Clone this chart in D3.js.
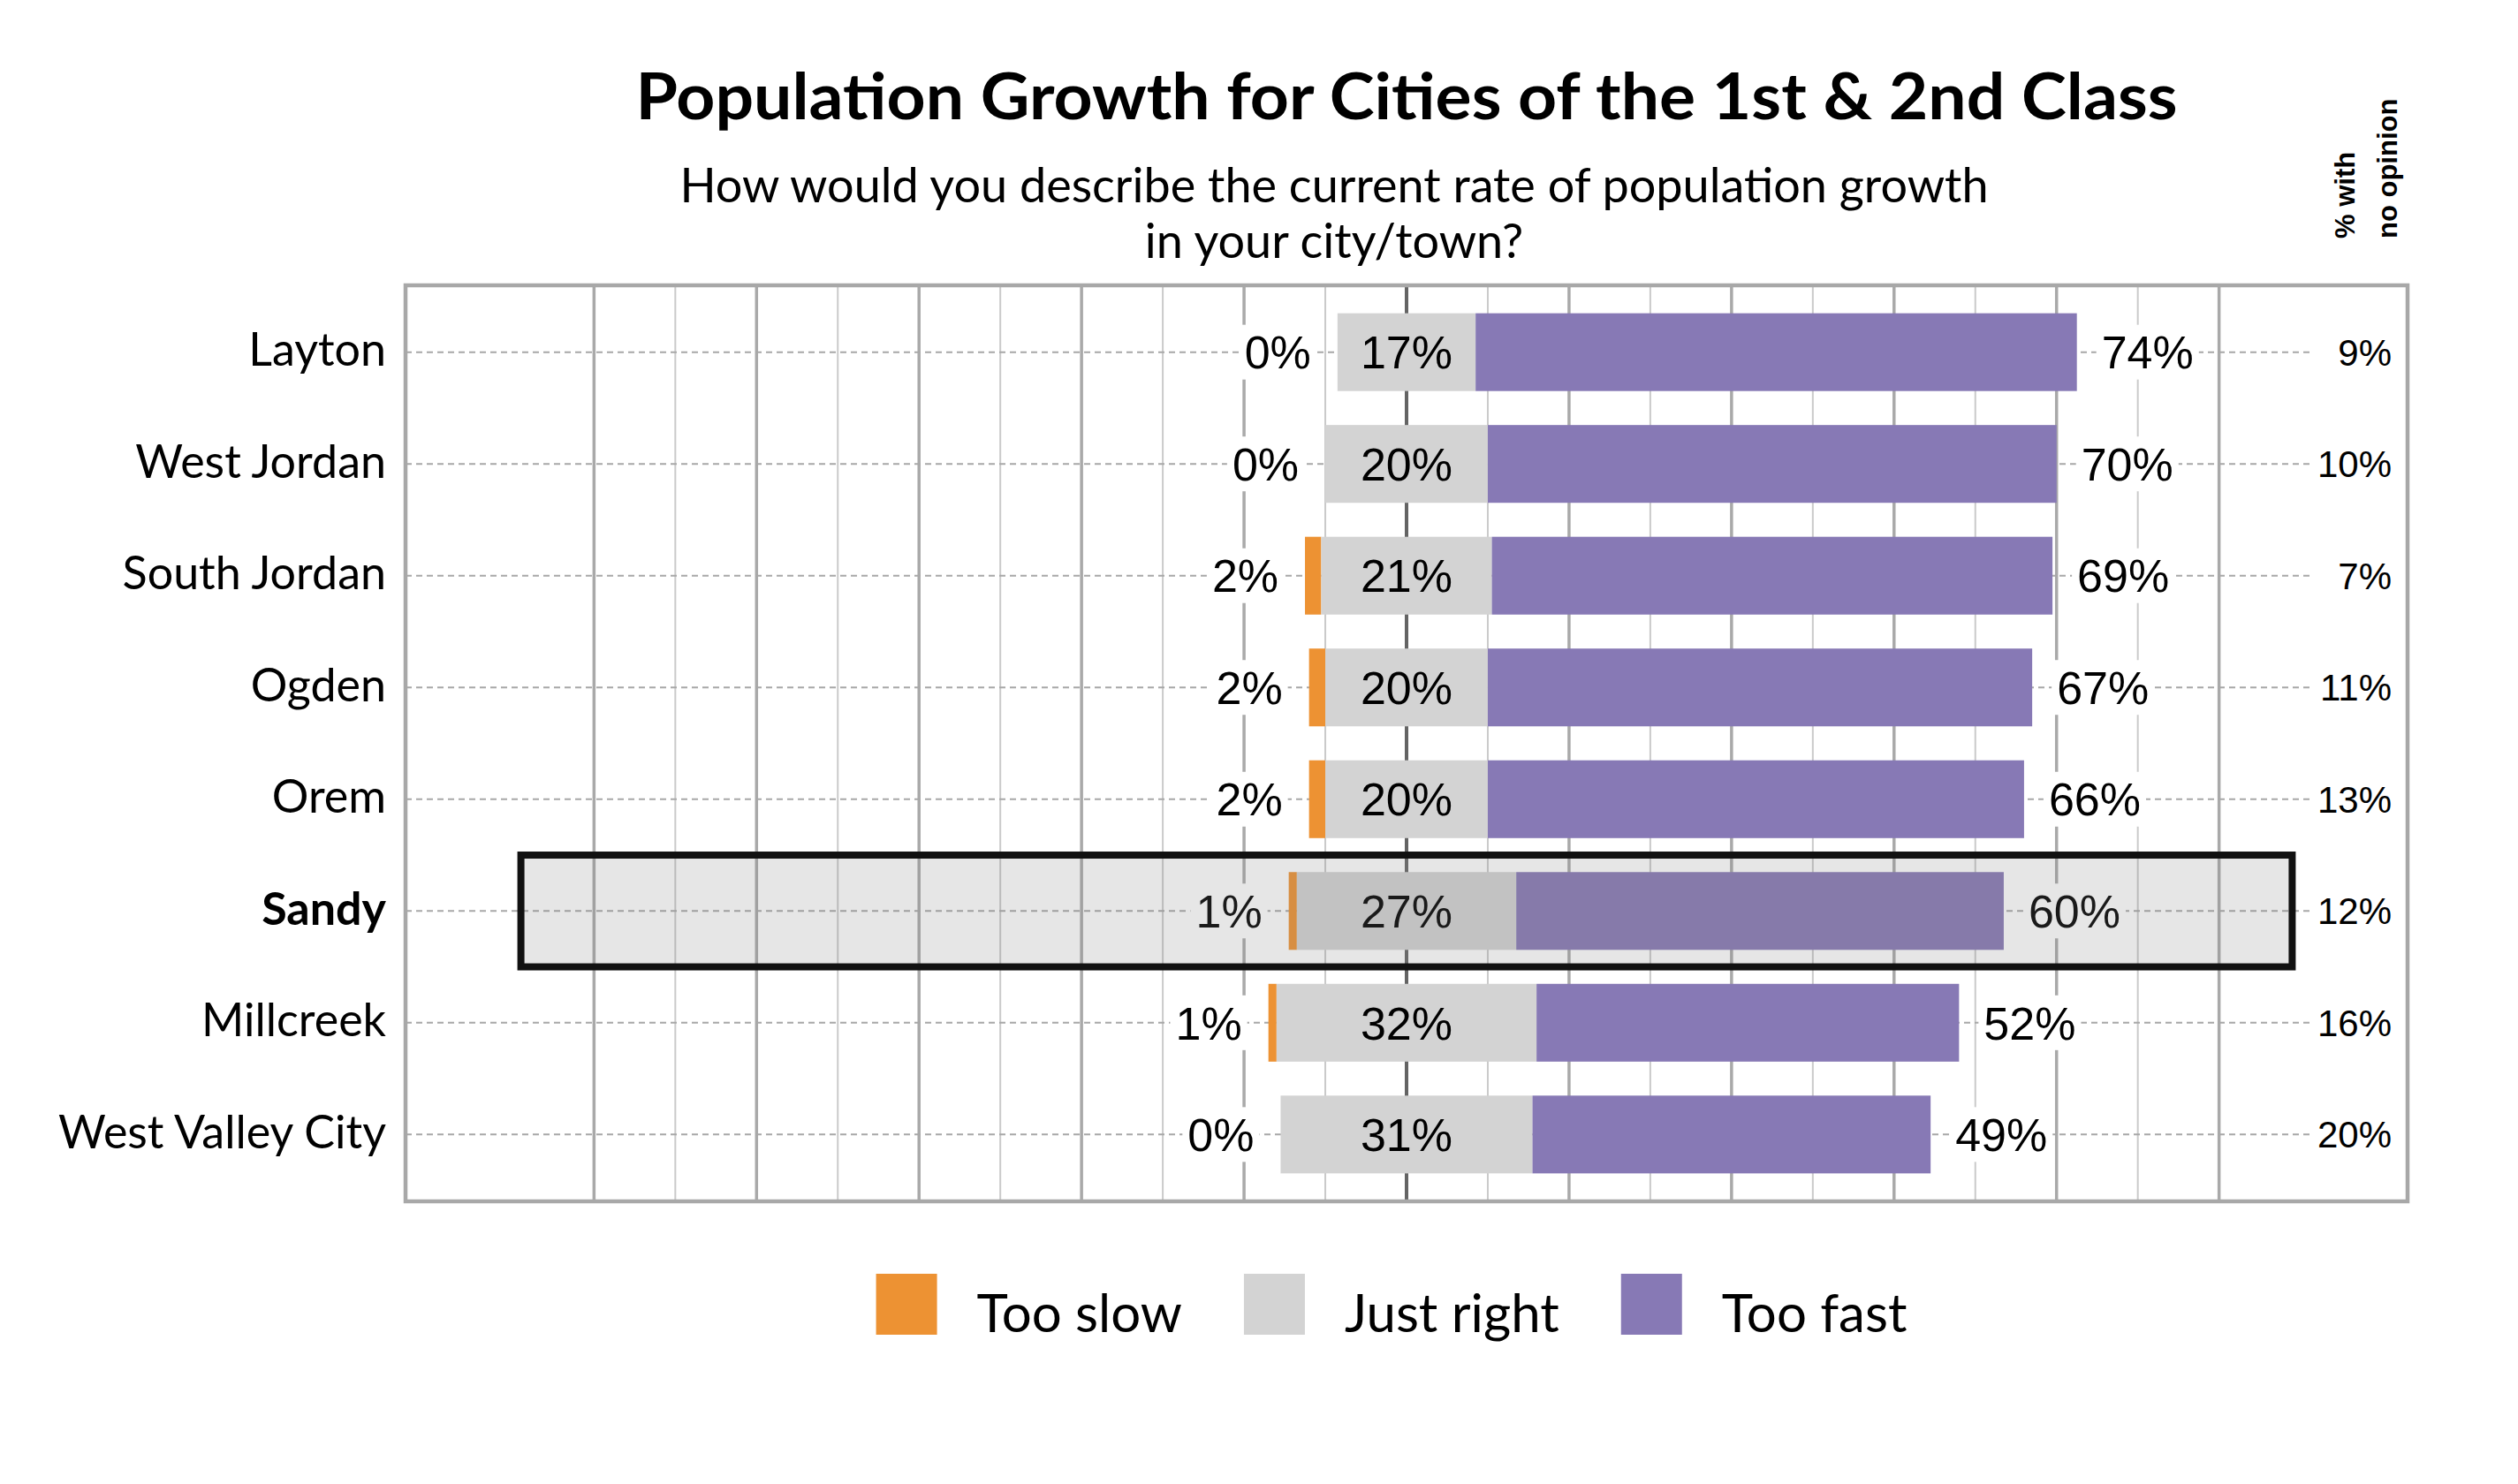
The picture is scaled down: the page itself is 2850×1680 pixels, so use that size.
<!DOCTYPE html>
<html>
<head>
<meta charset="utf-8">
<script src="https://cdn.jsdelivr.net/npm/d3@7"></script>
<style>
  body { margin: 0; background: #fff; }
  svg text { fill: #000; }
</style>
</head>
<body>
<script>
// chart values
var cities = ['Layton', 'West Jordan', 'South Jordan', 'Ogden', 'Orem', 'Sandy', 'Millcreek', 'West Valley City'];
var tooSlow = [0, 0, 2, 2, 2, 1, 1, 0];
var justRight = [17, 20, 21, 20, 20, 27, 32, 31];
var tooFast = [74, 70, 69, 67, 66, 60, 52, 49];
var noOpinion = [9, 10, 7, 11, 13, 12, 16, 20];
var highlightCity = 'Sandy';
var seriesNames = ['Too slow', 'Just right', 'Too fast'];
var seriesColors = ['#ED9233', '#D3D3D3', '#8779B5'];
var gridValues = [-100, -90, -80, -70, -60, -50, -40, -30, -20, -10, 0, 10, 20, 30, 40, 50, 60, 70, 80, 90, 100];

var W = 2850, H = 1680;
var frame = { left: 459, right: 2725, top: 323, bottom: 1360 };
var labelFont = '"Liberation Sans", Arial, sans-serif';
var textFont = 'Lato, "Open Sans", sans-serif';

var rows = cities.map(function (c, i) {
  return { city: c, slow: tooSlow[i], right: justRight[i], fast: tooFast[i], none: noOpinion[i] };
});

var svg = d3.select('body').append('svg')
  .attr('width', W).attr('height', H)
  .attr('viewBox', '0 0 ' + W + ' ' + H);

var x = d3.scaleLinear().domain([-123.2, 123.2]).range([frame.left, frame.right]);
var y = d3.scaleBand().domain(cities).range([frame.top, frame.bottom])
  .paddingInner(0.304).paddingOuter(0.25);
var step = y.step();
function cy(c) { return y(c) + y.bandwidth() / 2; }

// title + question
svg.append('text')
  .attr('x', x(0)).attr('y', 135)
  .attr('text-anchor', 'middle')
  .attr('font-family', textFont).attr('font-weight', 700).attr('font-size', 72)
  .attr('textLength', 1745).attr('lengthAdjust', 'spacingAndGlyphs')
  .text('Population Growth for Cities of the 1st & 2nd Class');

var sub = svg.append('text')
  .attr('text-anchor', 'middle')
  .attr('font-family', textFont).attr('font-size', 54);
sub.append('tspan').attr('x', 1510).attr('y', 229)
  .text('How would you describe the current rate of population growth');
sub.append('tspan').attr('x', 1510).attr('y', 292)
  .text('in your city/town?');

// "% with no opinion" header, rotated
var hdr = svg.append('g').attr('font-family', labelFont).attr('font-weight', 700).attr('font-size', 31);
hdr.append('text').attr('transform', 'translate(2665,270) rotate(-90)').text('% with');
hdr.append('text').attr('transform', 'translate(2713,270) rotate(-90)').text('no opinion');

// vertical grid (every 10%, heavier every 20%, darkest at zero)
svg.append('g').selectAll('line')
  .data(gridValues)
  .join('line')
  .attr('x1', function (d) { return x(d); }).attr('x2', function (d) { return x(d); })
  .attr('y1', frame.top).attr('y2', frame.bottom)
  .attr('stroke', function (d) { return d === 0 ? '#646464' : (d % 20 === 0 ? '#a9a9a9' : '#cacaca'); })
  .attr('stroke-width', function (d) { return d === 0 ? 4 : (d % 20 === 0 ? 3.5 : 2); });

// dashed row guides
svg.append('g').selectAll('line')
  .data(rows)
  .join('line')
  .attr('x1', frame.left).attr('x2', 2615)
  .attr('y1', function (d) { return cy(d.city); }).attr('y2', function (d) { return cy(d.city); })
  .attr('stroke', '#a8a8a8').attr('stroke-width', 2).attr('stroke-dasharray', '7,5');

// stacked diverging bars: "Just right" centred on zero
function segs(d) {
  var h = d.right / 2;
  return [
    { key: 0, x0: -h - d.slow, x1: -h, city: d.city },
    { key: 1, x0: -h, x1: h, city: d.city },
    { key: 2, x0: h, x1: h + d.fast, city: d.city }
  ];
}
svg.append('g').selectAll('g')
  .data(rows)
  .join('g')
  .selectAll('rect')
  .data(segs)
  .join('rect')
  .attr('x', function (s) { return x(s.x0); })
  .attr('width', function (s) { return x(s.x1) - x(s.x0); })
  .attr('y', function (s) { return y(s.city); })
  .attr('height', y.bandwidth())
  .attr('fill', function (s) { return seriesColors[s.key]; });

// value labels
var labels = [];
rows.forEach(function (d) {
  var h = d.right / 2;
  labels.push({ city: d.city, text: d.slow + '%', xv: x(-h - d.slow) - 30, anchor: 'end', size: 52, bg: true });
  labels.push({ city: d.city, text: d.right + '%', xv: x(0), anchor: 'middle', size: 52, bg: false });
  labels.push({ city: d.city, text: d.fast + '%', xv: x(h + d.fast) + 28, anchor: 'start', size: 52, bg: true });
  labels.push({ city: d.city, text: d.none + '%', xv: 2707, anchor: 'end', size: 42, bg: true });
});

var lg = svg.append('g').attr('font-family', labelFont);
var lbl = lg.selectAll('g').data(labels).join('g');
lbl.append('rect').attr('fill', '#fff');
lbl.append('text')
  .attr('x', function (d) { return d.xv; })
  .attr('y', function (d) { return cy(d.city); })
  .attr('dy', '0.36em')
  .attr('font-size', function (d) { return d.size; })
  .attr('text-anchor', function (d) { return d.anchor; })
  .text(function (d) { return d.text; });
lbl.each(function (d) {
  var t = d3.select(this).select('text').node().getBBox();
  d3.select(this).select('rect')
    .attr('x', t.x - 6).attr('width', t.width + 12)
    .attr('y', cy(d.city) - 31).attr('height', 62)
    .attr('display', d.bg ? null : 'none');
});

// city names
svg.append('g')
  .attr('font-family', textFont).attr('font-size', 52)
  .selectAll('text')
  .data(rows)
  .join('text')
  .attr('x', frame.left - 22)
  .attr('y', function (d) { return cy(d.city); })
  .attr('dy', '0.3em')
  .attr('text-anchor', 'end')
  .attr('font-weight', function (d) { return d.city === highlightCity ? 700 : 400; })
  .text(function (d) { return d.city; });

// highlight box over the featured city
svg.append('rect')
  .attr('x', x(-109)).attr('width', x(109) - x(-109))
  .attr('y', cy(highlightCity) - step / 2).attr('height', step)
  .attr('fill', 'rgba(128,128,128,0.2)')
  .attr('stroke', '#111').attr('stroke-width', 8);

// plot frame
svg.append('rect')
  .attr('x', frame.left).attr('y', frame.top)
  .attr('width', frame.right - frame.left).attr('height', frame.bottom - frame.top)
  .attr('fill', 'none').attr('stroke', '#a8a8a8').attr('stroke-width', 4.5);

// legend, centred under the plot
var leg = svg.append('g').attr('font-family', textFont).attr('font-size', 60);
var items = leg.selectAll('g').data(seriesNames).join('g');
items.append('rect').attr('width', 69).attr('height', 69).attr('y', 1442)
  .attr('fill', function (d, i) { return seriesColors[i]; });
items.append('text').attr('x', 114).attr('y', 1508).text(function (d) { return d; });
var widths = [];
items.each(function () { widths.push(114 + d3.select(this).select('text').node().getComputedTextLength()); });
var total = d3.sum(widths) + 70 * (widths.length - 1);
var lx = 1575 - total / 2;
items.attr('transform', function (d, i) {
  var t = 'translate(' + lx + ',0)';
  lx += widths[i] + 70;
  return t;
});
</script>
</body>
</html>
